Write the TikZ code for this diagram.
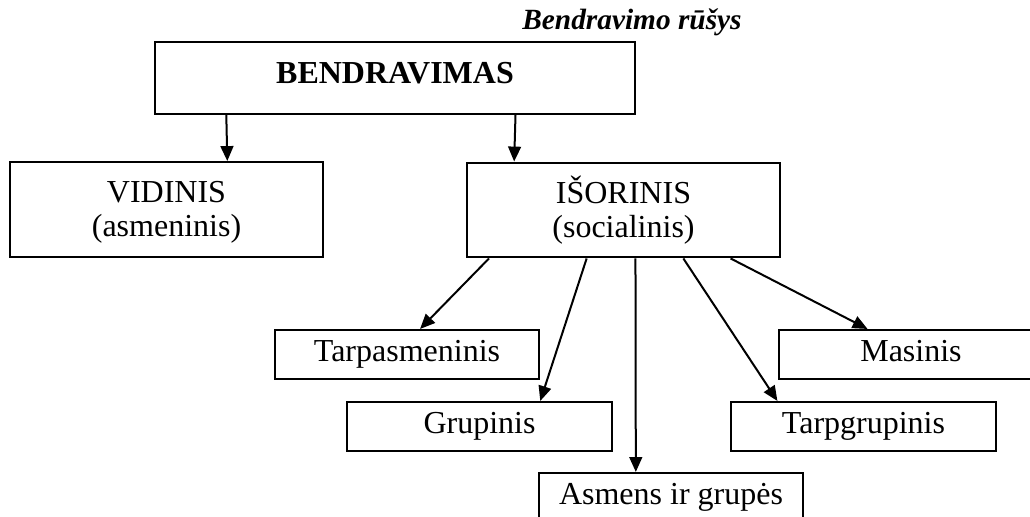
\documentclass[tikz,border=0pt]{standalone}
\usepackage{fontspec}
\setmainfont{Liberation Serif}
\usetikzlibrary{
  arrows.meta,
  calc
}
\tikzset{
  every node/.style={draw, align=center, inner sep=0pt, line width=0.75pt},
  -{Triangle[length=5.6pt, width=4.8pt]},
  topbox/.style={minimum width=180pt, minimum height=27pt, text height=8pt, text depth=4.2pt},
  kindbox/.style={minimum width=117.4pt, minimum height=35.6pt, text height=24.4pt, text depth=3.8pt},
  subbox/.style={minimum width=99.2pt, minimum height=18.4pt, text height=8.6pt, text depth=3pt},
}

\begin{document}
\begin{tikzpicture}[x=0.375pt, y=-0.375pt, line width=0.75pt]
      \fontsize{12}{12.75}\selectfont
      \useasboundingbox (0,0) rectangle (1030,517);
      \node[draw=none] (title) at (632,22) {\fontsize{11}{13}\selectfont\textbf{\textit{Bendravimo rūšys}}};
      \node (main) [topbox] at (395,78) {\textbf{BENDRAVIMAS}};
      \node (vid) [kindbox] at (166.5,209.5) {
        VIDINIS \\
        (asmeninis)
      };
      \node (isor) [kindbox] at (623.5,210) {
        IŠORINIS \\
        (socialinis)
      };
      \node (tasm) [subbox] at (407,354.5) {Tarpasmeninis};
      \node (grup) [subbox] at (479.5,426.5) {Grupinis};
      \node (asgr) [subbox] at (671,497.5) {Asmens ir grupės};
      \node (tgrup) [subbox] at (863.5,426.5) {Tarpgrupinis};
      \node (mas) [subbox] at (911,354.5) {Masinis};

      \draw ($(main.south west)!0.15!(main.south east)$) -- ($(vid.north west)!0.693!(vid.north east)$);
      \draw ($(main.south west)!0.75!(main.south east)$) -- ($(isor.north west)!0.153!(isor.north east)$);
      \draw ($(isor.south west)!0.073!(isor.south east)$) -- ($(tasm.north west)!0.549!(tasm.north east)$);
      \draw ($(isor.south west)!0.383!(isor.south east)$) -- ($(grup.north west)!0.728!(grup.north east)$);
      \draw ($(isor.south west)!0.538!(isor.south east)$) -- ($(asgr.north west)!0.368!(asgr.north east)$);
      \draw ($(isor.south west)!0.69!(isor.south east)$) -- ($(tgrup.north west)!0.177!(tgrup.north east)$);
      \draw ($(isor.south west)!0.84!(isor.south east)$) -- ($(mas.north west)!0.337!(mas.north east)$);
    \end{tikzpicture}
\end{document}
